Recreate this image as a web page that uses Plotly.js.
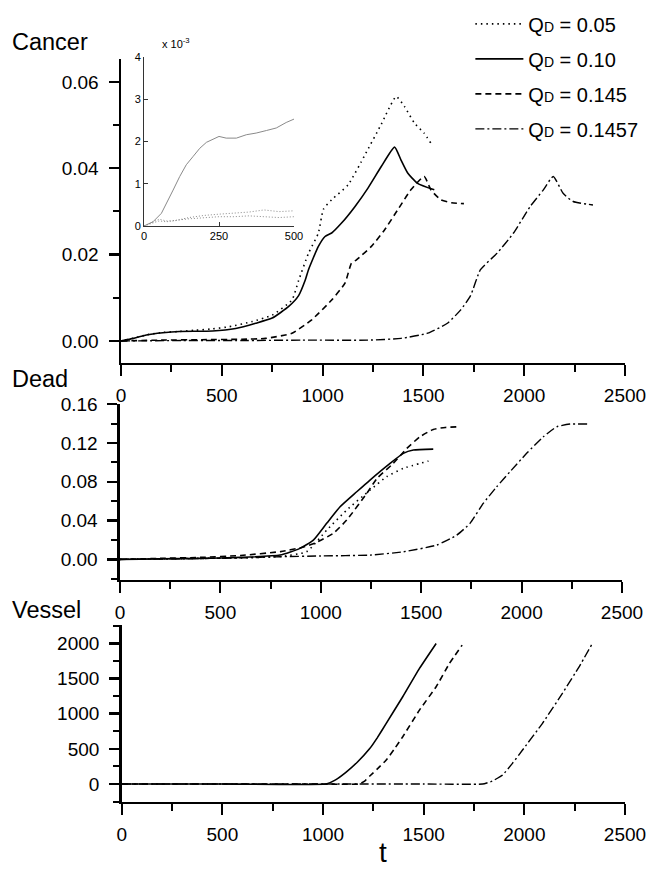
<!DOCTYPE html>
<html>
<head>
<meta charset="utf-8">
<script src="https://cdn.plot.ly/plotly-3.0.1.min.js"></script>
<style>html,body{margin:0;padding:0;background:#fff;}#chart{width:647px;height:869px;}</style>
</head>
<body>
<div id="chart"></div>
<script>
// ---- Legend labels ----
const seriesNames = [
  'Q<span style="font-size:14px">D</span> = 0.05',
  'Q<span style="font-size:14px">D</span> = 0.10',
  'Q<span style="font-size:14px">D</span> = 0.145',
  'Q<span style="font-size:14px">D</span> = 0.1457'
];

// ---- Cancer panel ----
const cancerT_005 = [0,60,125,210,290,372,454,536,651,750,848,881,930,979,1004,1045,1127,1209,1291,1365,1406,1455,1504,1537];
const cancerV_005 = [0,0.0006,0.0014,0.002,0.0022,0.0025,0.0028,0.0033,0.0045,0.006,0.0095,0.014,0.0203,0.025,0.0305,0.0327,0.0362,0.043,0.0502,0.0566,0.0543,0.0505,0.0481,0.0458];
const cancerT_010 = [0,61,126,208,290,454,569,668,750,832,881,914,930,979,1012,1045,1094,1160,1225,1291,1357,1389,1422,1471,1554];
const cancerV_010 = [0,0.0006,0.0014,0.0019,0.0022,0.0023,0.0029,0.0041,0.0053,0.008,0.0105,0.0141,0.0165,0.0219,0.0242,0.025,0.0273,0.0311,0.0354,0.0404,0.0449,0.0419,0.0389,0.0365,0.035];
const cancerT_0145 = [0,200,400,600,717,848,946,1045,1111,1143,1168,1242,1307,1373,1438,1504,1537,1586,1640,1701];
const cancerV_0145 = [0,0.0002,0.0003,0.0004,0.0006,0.0018,0.0049,0.0095,0.0134,0.018,0.0188,0.0219,0.0257,0.0304,0.035,0.0381,0.035,0.0327,0.032,0.0318];
const cancerT_01457 = [0,300,600,900,1225,1389,1521,1619,1685,1734,1783,1865,1947,2029,2095,2144,2193,2243,2341];
const cancerV_01457 = [0,0.0001,0.0001,0.0002,0.0002,0.0006,0.0018,0.0041,0.0072,0.0105,0.0165,0.0203,0.025,0.0311,0.035,0.0381,0.0342,0.0323,0.0315];

// ---- Inset (x 10^-3) ----
const insetT_main = [0,30,58,74,97,119,141,163,186,208,230,250,274,308,341,374,408,441,474,500];
const insetV_main = [0,0.1,0.3,0.54,0.85,1.17,1.45,1.64,1.84,1.98,2.05,2.12,2.08,2.08,2.16,2.2,2.26,2.32,2.45,2.53];
const insetT_low = [0,25,50,75,100,150,200,250,300,350,400,450,500];
const insetV_lowA = [0,0.08,0.16,0.12,0.12,0.2,0.25,0.28,0.3,0.33,0.38,0.34,0.36];
const insetV_lowB = [0,0.06,0.12,0.1,0.13,0.17,0.2,0.22,0.22,0.24,0.22,0.2,0.22];

// ---- Dead panel ----
const deadT_005 = [0,200,400,600,800,930,1029,1129,1245,1328,1411,1536];
const deadV_005 = [0,0.0005,0.001,0.0015,0.003,0.008,0.030,0.0508,0.0714,0.0852,0.0938,0.1013];
const deadT_010 = [0,200,400,600,797,896,963,1029,1096,1179,1245,1345,1411,1461,1560];
const deadV_010 = [0,0.0005,0.001,0.002,0.0044,0.0113,0.0199,0.0371,0.0542,0.0697,0.0818,0.099,0.1093,0.1127,0.1137];
const deadT_0145 = [0,200,400,600,800,900,963,1062,1129,1229,1278,1361,1428,1494,1560,1620,1693];
const deadV_0145 = [0,0.001,0.002,0.004,0.008,0.012,0.016,0.0268,0.0405,0.068,0.083,0.099,0.1144,0.1264,0.134,0.136,0.1367];
const deadT_01457 = [0,300,600,797,1000,1245,1411,1577,1677,1743,1809,1876,1942,2025,2108,2175,2241,2332];
const deadV_01457 = [0,0.0005,0.0015,0.0027,0.0035,0.0044,0.0078,0.0147,0.025,0.0371,0.0577,0.0748,0.0903,0.1093,0.1264,0.1367,0.1395,0.1395];

// ---- Vessel panel ----
const vesselT_010 = [0,500,1016,1060,1115,1170,1231,1270,1314,1396,1479,1562];
const vesselV_010 = [0,0,0,55,170,310,500,660,862,1240,1643,1998];
const vesselT_0145 = [0,500,1000,1180,1210,1231,1270,1314,1355,1396,1479,1562,1628,1691];
const vesselV_0145 = [0,0,0,0,50,110,215,341,500,672,1051,1382,1714,1974];
const vesselT_01457 = [0,500,1000,1500,1793,1840,1892,1940,1991,2090,2189,2272,2338];
const vesselV_01457 = [0,0,0,0,0,40,128,290,483,862,1288,1666,1998];

// ---- Tick labels ----
const tTicks = [0,500,1000,1500,2000,2500];
const insetTicks = [0,250,500];

const styles = [
  {dash:'1.5px,4px', width:1.6},
  {dash:'solid', width:1.6},
  {dash:'6px,4px', width:1.6},
  {dash:'9px,3px,2px,3px', width:1.4}
];
function tr(x, y, i, xa, ya, legend, smooth) {
  const line = {color:'#000', dash:styles[i].dash, width:styles[i].width, shape:'spline', smoothing:smooth};
  return {
    type:'scatter', mode:'lines', x:x, y:y, xaxis:xa, yaxis:ya, line:line,
    name:seriesNames[i], legendgroup:'g'+i, showlegend:legend, hoverinfo:'skip'
  };
}
function insetTr(x, y, dash) {
  return {type:'scatter', mode:'lines', x:x, y:y, xaxis:'x4', yaxis:'y4',
    line:{color:'#8a8a8a', width:1, dash:dash}, showlegend:false, hoverinfo:'skip'};
}

const data = [
  tr(cancerT_005, cancerV_005, 0, 'x', 'y', true, 0.5),
  tr(cancerT_010, cancerV_010, 1, 'x', 'y', true, 0.5),
  tr(cancerT_0145, cancerV_0145, 2, 'x', 'y', true, 0.5),
  tr(cancerT_01457, cancerV_01457, 3, 'x', 'y', true, 0.5),
  insetTr(insetT_main, insetV_main, 'solid'),
  insetTr(insetT_low, insetV_lowA, '1px,2px'),
  insetTr(insetT_low, insetV_lowB, '1px,2px'),
  tr(deadT_005, deadV_005, 0, 'x2', 'y2', false, 0.5),
  tr(deadT_010, deadV_010, 1, 'x2', 'y2', false, 0.5),
  tr(deadT_0145, deadV_0145, 2, 'x2', 'y2', false, 0.5),
  tr(deadT_01457, deadV_01457, 3, 'x2', 'y2', false, 0.5),
  tr(vesselT_010, vesselV_010, 1, 'x3', 'y3', false, 0.3),
  tr(vesselT_0145, vesselV_0145, 2, 'x3', 'y3', false, 0.3),
  tr(vesselT_01457, vesselV_01457, 3, 'x3', 'y3', false, 0.3)
];

const FONT = 'Liberation Sans, Arial, sans-serif';
const tickFont = {family:FONT, size:19, color:'#000'};
function xAx(domain, anchor) {
  return {domain:domain, anchor:anchor, range:[0,2500], tickvals:tTicks, ticktext:tTicks.map(String),
    ticks:'outside', ticklen:11, tickwidth:2, tickcolor:'#000',
    minor:{ticks:'outside', dtick:250, tick0:0, ticklen:7, tickwidth:2, tickcolor:'#000'},
    showline:true, linewidth:2.5, linecolor:'#000', showgrid:false, zeroline:false,
    tickfont:tickFont, ticklabelstandoff:3, fixedrange:true};
}
function yAx(domain, anchor, range, dtick, minor, fmt) {
  return {domain:domain, anchor:anchor, range:range, tick0:0, dtick:dtick, tickformat:fmt,
    ticks:'outside', ticklen:10, tickwidth:2.5, tickcolor:'#000',
    minor:{ticks:'outside', dtick:minor, tick0:0, ticklen:6, tickwidth:2, tickcolor:'#000'},
    showline:true, linewidth:2.5, linecolor:'#000', showgrid:false, zeroline:false,
    tickfont:tickFont, ticklabelstandoff:6, fixedrange:true};
}

const layout = {
  width:647, height:869, margin:{l:0,r:0,t:0,b:0},
  paper_bgcolor:'#fff', plot_bgcolor:'rgba(0,0,0,0)',
  font:{family:FONT, color:'#000'},
  xaxis: xAx([0.18702,0.96600], 'y'),
  yaxis: yAx([0.58228,0.93211], 'x', [-0.0051,0.0653], 0.02, 0.01, '.2f'),
  xaxis2: xAx([0.18547,0.96136], 'y2'),
  yaxis2: yAx([0.33257,0.53510], 'x2', [-0.0213,0.1602], 0.04, 0.02, '.2f'),
  xaxis3: xAx([0.1881,0.96600], 'y3'),
  yaxis3: yAx([0.07745,0.28078], 'x3', [-251,2260], 500, 250, 'd'),
  xaxis4: {domain:[0.22257,0.45440], anchor:'y4', range:[0,500], tickvals:insetTicks,
    ticks:'inside', ticklen:4, tickwidth:1, tickcolor:'#333', showline:true, linewidth:1, linecolor:'#333',
    showgrid:false, zeroline:false, tickfont:{family:FONT, size:11, color:'#000'}, fixedrange:true},
  yaxis4: {domain:[0.73993,0.93441], anchor:'x4', range:[0,4], dtick:1, tick0:0,
    ticks:'inside', ticklen:4, tickwidth:1, tickcolor:'#333', showline:true, linewidth:1, linecolor:'#333',
    showgrid:false, zeroline:false, tickfont:{family:FONT, size:11, color:'#000'}, fixedrange:true},
  showlegend:true,
  legend:{x:0.727, y:0.995, xanchor:'left', yanchor:'top', bgcolor:'rgba(0,0,0,0)',
    font:{family:FONT, size:20, color:'#000'}, tracegroupgap:6, traceorder:'grouped', itemwidth:48},
  annotations:[
    {text:'Cancer', xref:'paper', yref:'paper', x:0.0155, y:0.95167, xanchor:'left', yanchor:'middle', showarrow:false, font:{family:FONT, size:23.5}},
    {text:'Dead', xref:'paper', yref:'paper', x:0.0155, y:0.56387, xanchor:'left', yanchor:'middle', showarrow:false, font:{family:FONT, size:23.5}},
    {text:'Vessel', xref:'paper', yref:'paper', x:0.0155, y:0.29804, xanchor:'left', yanchor:'middle', showarrow:false, font:{family:FONT, size:23.5}},
    {text:'t', xref:'paper', yref:'paper', x:0.59196, y:0.0195, xanchor:'center', yanchor:'middle', showarrow:false, font:{family:FONT, size:28}},
    {text:'x 10<sup>-3</sup>', xref:'paper', yref:'paper', x:0.2473, y:0.9505, xanchor:'left', yanchor:'middle', showarrow:false, font:{family:FONT, size:11}}
  ]
};

Plotly.newPlot('chart', data, layout, {staticPlot:true, displayModeBar:false});
</script>
</body>
</html>
